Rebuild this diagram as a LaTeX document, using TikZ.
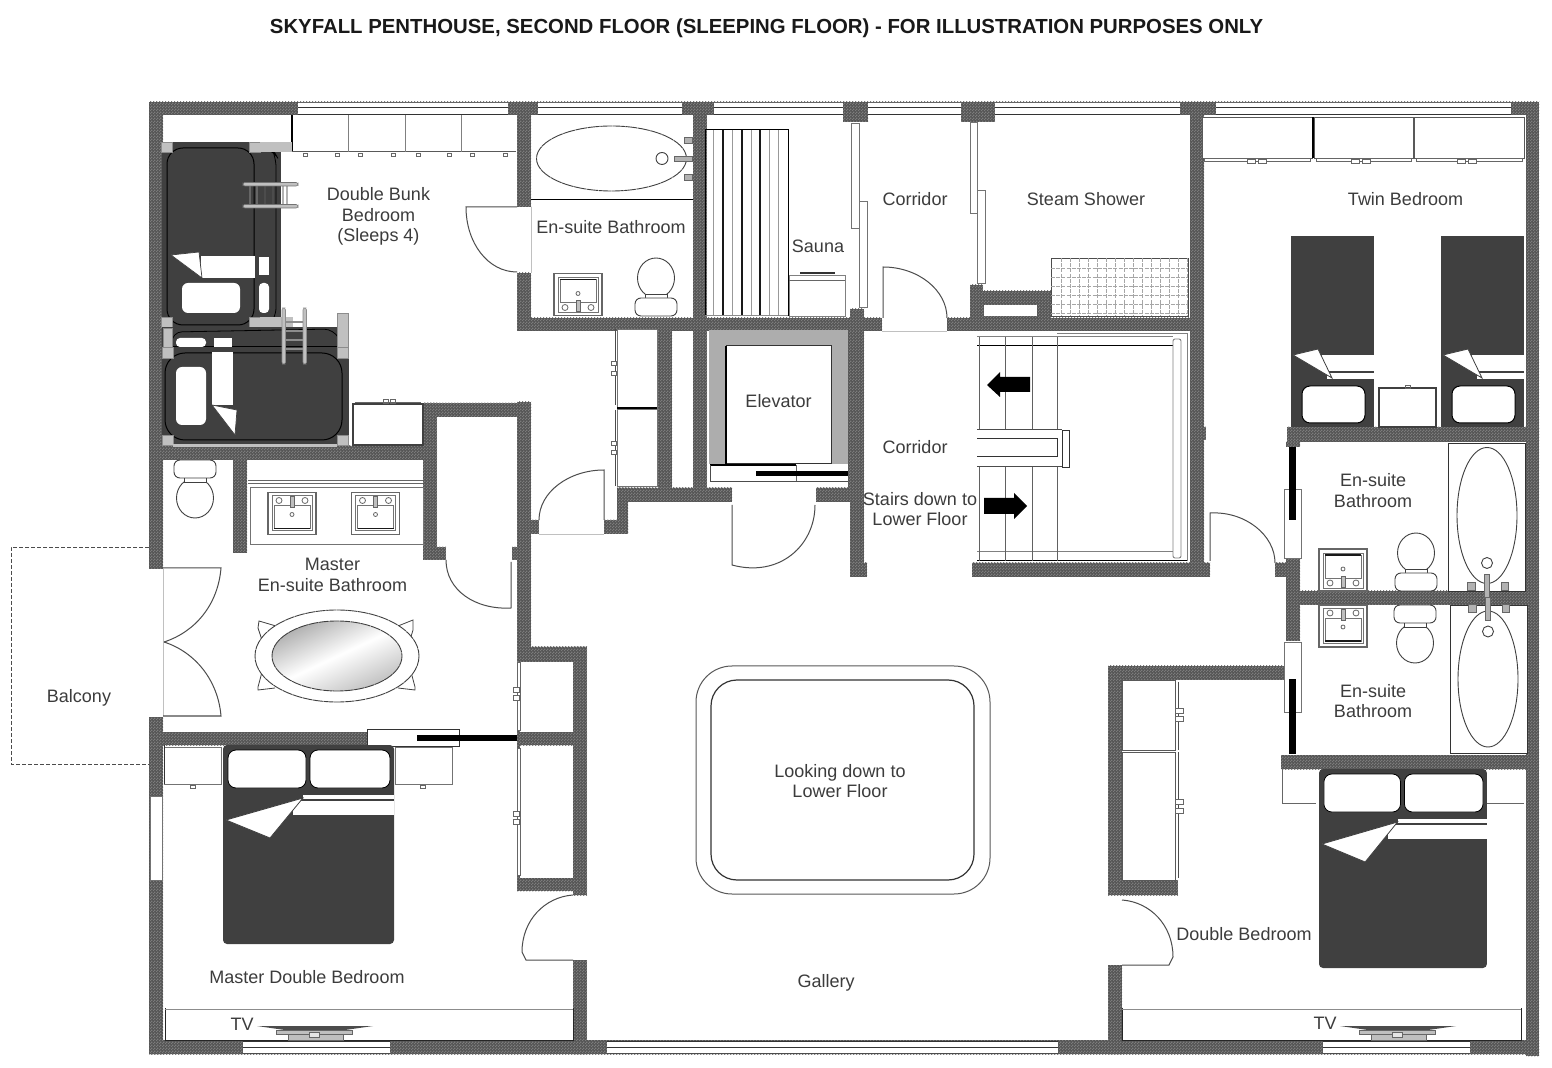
\documentclass[tikz,border=0pt]{standalone}
\usepackage{fontspec}
\setmainfont{Liberation Sans}
\usetikzlibrary{patterns,shadings}
\definecolor{wallc}{HTML}{555555}
\definecolor{walld}{HTML}{7C7C7C}
\definecolor{darkbed}{HTML}{404040}
\definecolor{txt}{HTML}{3C3C3C}
\definecolor{lgray}{HTML}{C0C0C0}
\pgfdeclarepatternformonly{wdots}{\pgfpointorigin}{\pgfqpoint{1.5pt}{1.5pt}}{\pgfqpoint{1.5pt}{1.5pt}}{%
  \pgfpathrectangle{\pgfpointorigin}{\pgfqpoint{0.75pt}{0.75pt}}%
  \pgfpathrectangle{\pgfqpoint{0.75pt}{0.75pt}}{\pgfqpoint{0.75pt}{0.75pt}}%
  \pgfusepath{fill}}
\tikzset{
  wall/.style={fill=wallc,postaction={pattern=wdots,pattern color=walld}},
  fix/.style={draw=black!75,line width=0.45pt,fill=white},
  thinl/.style={draw=black!60,line width=0.4pt},
  door/.style={draw=black!70,line width=0.5pt},
  lbl/.style={text=txt,font=\fontsize{9}{10.3}\selectfont,align=center,inner sep=0pt},
  post/.style={fill=lgray,draw=black!45,line width=0.3pt},
}
\newcommand\WinH[2]{%
  \fill[white] (#1,102) rectangle (#2,115);
  \draw[black!60,line width=0.4pt] (#1,102) -- (#2,102);
  \draw[black!80,line width=0.5pt] (#1,108) -- (#2,108);
  \draw[black!80,line width=0.5pt] (#1,115) -- (#2,115);}
\newcommand\WinB[2]{%
  \fill[white] (#1,1041) rectangle (#2,1053);
  \draw[black!80,line width=0.5pt] (#1,1041) -- (#2,1041);
  \draw[black!80,line width=0.5pt] (#1,1047) -- (#2,1047);
  \draw[black!70,line width=0.5pt] (#1,1053) -- (#2,1053);}
\newcommand\Sink[3]{\begin{scope}[shift={(#1,#2)},yscale=#3]
  \draw[fill=white,draw=black!60,line width=0.55pt] (-24,-21) rectangle (24,21);
  \draw[black!55,line width=0.35pt] (-20,-17) rectangle (20,18);
  \draw[black!55,line width=0.35pt] (-18,-15) rectangle (18,8);
  \draw[black!90,line width=0.6pt] (-18,-15) -- (18,-15);
  \draw[thinl] (0,-1) circle (2);
  \draw[thinl,fill=black!25] (-2,6) rectangle (2,17);
  \draw[thinl] (-13,13) circle (3);
  \draw[thinl] (13,13) circle (3);
\end{scope}}
\newcommand\Toilet[3]{\begin{scope}[shift={(#1,#2)},yscale=#3]
  \draw[fix] (0,-38) ellipse (18.5 and 20);
  \draw[fix] (-11,-22) rectangle (11,-17);
  \draw[fix,rounded corners=3] (-21,-18) rectangle (21,0);
\end{scope}}
\newcommand\TubV[3]{\begin{scope}[shift={(#1,#2)},yscale=#3]
  \draw[fix] (0,0) ellipse (30 and 68);
  \draw[fix] (0,47.5) circle (5.5);
  \draw[thinl,fill=black!30] (-2.5,58.5) rectangle (2.5,81.5);
  \draw[thinl,fill=black!30] (-19.5,67) rectangle (-12,75);
  \draw[thinl,fill=black!30] (14,67) rectangle (21,75);
 \end{scope}}
\newcommand\TwinBed[1]{\begin{scope}[shift={(#1,0)}]
  \fill[darkbed] (0,236) rectangle (83,427);
  \fill[white] (31,355) rectangle (83,371);
  \fill[white] (36,373) rectangle (83,379);
  \draw[fix,line width=0.4pt] (2,355) -- (27,349) -- (41,378) -- cycle;
  \draw[fill=white,draw=black,line width=0.5pt,rounded corners=4] (11,386) rectangle (74,423);
\end{scope}}
\newcommand\BigBed[3]{\begin{scope}[shift={(#1,#2)},xscale=#3]
  \fill[darkbed,rounded corners=2] (0,0) rectangle (171,199);
  \draw[fill=white,rounded corners=4,draw=black,line width=0.4pt] (5,5) rectangle (83,43);
  \draw[fill=white,rounded corners=4,draw=black,line width=0.4pt] (87,5) rectangle (167,43);
  \fill[white] (80,50) rectangle (171,54);
  \fill[white] (70,56) rectangle (171,70);
  \draw[fix,line width=0.4pt] (3,75) -- (80,53) -- (47,93) -- cycle;
\end{scope}}
\newcommand\TvUnit[3]{% tv offset, left, right
  \fill[white] (#2,1008) rectangle (#3,1040);
  \draw[black!85,line width=0.45pt] (#2,1008) -- (#2,1040) -- (#3,1040) -- (#3,1008);
  \draw[black!45,line width=0.8pt] (#2,1009.5) -- (#3,1009.5);
  \fill[black!70] (#1+257,1026) -- (#1+373,1026) -- (#1+345,1030) -- (#1+285,1030) -- cycle;
  \draw[thinl,fill=black!25] (#1+276,1030) rectangle (#1+352,1034);
  \draw[thinl,fill=black!25] (#1+288,1034) rectangle (#1+343,1040);
  \draw[thinl,fill=black!10] (#1+309,1032) rectangle (#1+319,1037);}
\begin{document}
\begin{tikzpicture}[x=0.5pt,y=-0.5pt]
\useasboundingbox (0,0) rectangle (1552,1068);
\fill[white] (0,0) rectangle (1552,1068);
% ---------------- walls
\foreach \a/\b/\c/\d in {
 149/102/1539/115,   149/102/163/569,    149/717/163/1054,   149/1040/1539/1054, 1526/102/1539/1056,
 517/102/531/207,    517/273/531/331,    517/318/882/331,    693/102/707/488,    843/102/868/122,
 850/309/864/577,    850/563/867/577,    947/318/1190/331,   961/102/995/122,    970/285/983/318,
 983/291/1051/318,   1190/102/1204/577,  1204/427/1206/440,  972/563/1210/577,   848/331/862/488,
 658/331/672/488,    617/488/732/502,    816/488/850/502,    617/488/628/534,    604/520/628/534,
 517/402/531/648,    531/520/539/534,    423/403/531/417,    423/403/437/560,    423/547/446/560,
 512/547/517/560,    149/446/437/460,    233/460/247/553,    149/732/367/745,    517/732/587/745,
 517/647/587/662,    573/647/587/895,    517/878/587/891,    573/960/587/1054,
 517/662/520/732,    517/745/520/878,
 1108/666/1286/680,  1108/666/1122/895,  1122/880/1178/895,  1108/965/1122/1054,
 1287/427/1539/442,  1286/442/1300/447,  1286/558/1300/641,  1275/563/1287/577,  1300/591/1526/605,
 1281/755/1526/769}{
  \path[wall] (\a,\b) rectangle (\c,\d);
}
\fill[white] (984,305) rectangle (1037,316);
% ---------------- windows
\WinH{298}{508}\WinH{538}{682}\WinH{714}{843}\WinH{868}{961}\WinH{995}{1180}\WinH{1216}{1511}
\WinB{243}{390}\WinB{607}{1058}\WinB{1323}{1470}
\draw[fill=white,draw=black!55,line width=0.45pt] (150,796) rectangle (162,880);
% ---------------- balcony
\draw[black!70,line width=0.35pt,dash pattern=on 2pt off 1pt] (149,547) -- (11,547) -- (11,764) -- (149,764);
% ---------------- double bunk closet
\draw[black,line width=0.6pt] (292,115) -- (292,152);
\draw[black!65,line width=0.5pt] (292,152) -- (516,152);
\foreach \x in {348,405,461} \draw[black!50,line width=0.4pt] (\x,115) -- (\x,152);
\foreach \x in {305,337,360,393,418,449,472,505} \draw[thinl,fill=white] (\x-2,153) rectangle (\x+2,156);
% bunk 1
\fill[darkbed] (162,142) rectangle (281,327);
\draw[black,line width=0.5pt,rounded corners=8] (167,148) rectangle (254,325);
\draw[black,line width=0.4pt,rounded corners=6] (254,148) -- (272,148) -- (276,155) -- (276,320) -- (270,325) -- (254,325);
\draw[post] (249,142) rectangle (260,152);
\draw[post] (161,142) rectangle (172,152);
\fill[lgray] (260,142) rectangle (292,152);
\draw[post] (161,317) rectangle (172,327);
\draw[post] (249,317) rectangle (260,327);
\fill[lgray] (260,317) rectangle (293,327);
\fill[white] (201,256) rectangle (255,278);
\fill[white] (259,257) rectangle (269,275);
\fill[white,rounded corners=3] (182,283) rectangle (240,313);
\fill[white,rounded corners=2] (259,283) rectangle (269,313);
\draw[fix,line width=0.35pt] (171,255) -- (199,252) -- (202,278) -- cycle;
% ladder 1
\foreach \x/\c in {250/black!60,257/black!60,265/black!70,273/black!70,283/black!30,287/black!30}
  \draw[\c,line width=0.8pt] (\x,185) -- (\x,206);
\draw[fill=lgray,draw=black!55,line width=0.3pt,rounded corners=1] (243,182.5) rectangle (298,186);
\draw[fill=lgray,draw=black!55,line width=0.3pt,rounded corners=1] (243,204.5) rectangle (298,208);
% bunk 2
\fill[darkbed] (162,327) rectangle (349,445);
\draw[black,line width=0.5pt,rounded corners=10] (165,353) rectangle (342,440);
\draw[black,line width=0.5pt] (172,347) -- (337,347);
\draw[black,line width=0.4pt,rounded corners=5] (172,347) -- (172,332) -- (334,329) -- (337,335);
\draw[post] (163,328) rectangle (172,347);
\draw[post] (162,347) rectangle (173,358);
\draw[post] (337,313) rectangle (348,347);
\draw[post] (337,347) rectangle (348,358);
\draw[post] (337,435) rectangle (348,445);
\draw[post] (162,435) rectangle (173,445);
\fill[lgray] (173,444.5) rectangle (337,447);
\fill[white,rounded corners=3] (176,367) rectangle (206,425);
\fill[white] (212,352) rectangle (233,405);
\draw[fix,line width=0.35pt] (212,405) -- (237,410) -- (235,435) -- cycle;
\fill[white,rounded corners=2] (176,338) rectangle (206,347);
\fill[white] (214,338) rectangle (232,347);
\foreach \y in {322,331,340,349} \draw[black!45,line width=0.9pt] (284,\y) -- (305,\y);
\draw[post,rounded corners=1] (282,308) rectangle (285.5,364);
\draw[post,rounded corners=1] (303,308) rectangle (306.5,364);
% nightstand
\draw[fix,line width=0.6pt] (353,404) rectangle (423,445);
\draw[thinl] (355,402) -- (421,402);
\draw[thinl] (383,399) rectangle (388,403); \draw[thinl] (390,399) rectangle (395,403);
% ---------------- en-suite bathroom
\draw[black,line width=0.5pt] (531,200) -- (693,200);
\draw[fix,dash pattern=on 6pt off 0.3pt] (611.5,158.5) ellipse (75 and 32.5);
\draw[fix] (662,158.5) circle (6);
\draw[thinl,fill=black!30] (674,156) rectangle (692,161);
\draw[thinl,fill=black!30] (684,137) rectangle (692,143);
\draw[thinl,fill=black!30] (684,174) rectangle (692,180);
\Sink{578}{294.5}{1}
\Toilet{656}{316}{1}
\draw[lgray,line width=0.4pt] (531,207) -- (531,273);
% ---------------- sauna
\draw[black,line width=0.5pt] (705,316) -- (705,130) -- (788,130) -- (788,316);
\foreach \x in {713,732,751,769,778} \draw[black!40,line width=0.5pt] (\x,130) -- (\x,316);
\foreach \x in {723,742,760} \draw[black!90,line width=0.55pt] (\x,130) -- (\x,316);
\draw[black!45,line width=0.5pt] (705,316) -- (788,316);
\draw[fill=white,draw=black!50,line width=0.45pt] (789,275) rectangle (845,316);
\draw[thinl] (789,280) -- (845,280);
\draw[black!80,line width=0.7pt] (800,273) -- (835,273);
% sliding panels
\draw[fill=white,draw=black!55,line width=0.45pt] (851,123) rectangle (859,228);
\draw[fill=white,draw=black!55,line width=0.45pt] (859,201) rectangle (867,307);
\draw[fill=white,draw=black!55,line width=0.45pt] (970,122) rectangle (977,213);
\draw[fill=white,draw=black!55,line width=0.45pt] (977,190) rectangle (985,283);
% shower grid
\draw[black!70,line width=0.4pt] (1051,258) rectangle (1188,316);
\foreach \x in {1061,1070,...,1188} \draw[black!35,line width=0.3pt,dash pattern=on 2pt off 0.6pt] (\x,258) -- (\x,316);
\foreach \y in {268,277,...,316} \draw[black!35,line width=0.3pt,dash pattern=on 2pt off 0.6pt] (1051,\y) -- (1188,\y);
% ---------------- corridor door light line
\draw[lgray,line width=0.4pt] (882,331) -- (947,331);
% ---------------- stairs
\draw[black!50,line width=0.5pt] (1057,334) -- (1187,334) -- (1187,561);
\draw[black!50,line width=0.5pt] (977,337) -- (1173,337);
\draw[black,line width=0.5pt] (977,346) -- (1173,346);
\draw[black!50,line width=0.5pt] (977,552) -- (1173,552);
\draw[black,line width=0.5pt] (977,561) -- (1187,561);
\draw[fill=white,draw=black!50,line width=0.45pt,rounded corners=1] (1173,339) rectangle (1181,558);
\foreach \x in {979,1005,1032,1057} {
  \draw[black!62,line width=0.5pt] (\x,337) -- (\x,430);
  \draw[black!62,line width=0.5pt] (\x,467) -- (\x,561);
}
\fill[white] (977,430) rectangle (1062,467);
\draw[black!70,line width=0.5pt] (977,430) -- (1062,430);
\draw[black!70,line width=0.5pt] (977,467) -- (1062,467);
\draw[black!80,line width=0.5pt] (977,439) -- (1057,439) -- (1057,457) -- (977,457);
\draw[fix,draw=black!80] (1062,430) rectangle (1069,467);
\fill[black] (1030,377) -- (1000,377) -- (1000,372) -- (987,385) -- (1000,397) -- (1000,392) -- (1030,392) -- cycle;
\fill[black] (984,498) -- (1014,498) -- (1014,493) -- (1027,506) -- (1014,519) -- (1014,514) -- (984,514) -- cycle;
% ---------------- closets centre-left
\draw[fill=white,draw=black!55,line width=0.45pt] (617,329) rectangle (657,408);
\draw[fill=white,draw=black!55,line width=0.45pt] (617,409) rectangle (657,486);
\draw[black,line width=0.6pt] (617,408) -- (657,408);
\draw[black!70,line width=0.5pt] (615,329) -- (615,405);
\draw[black!70,line width=0.5pt] (615,410) -- (615,486);
\foreach \y in {363,373,443,452} \draw[thinl,fill=white] (611,\y-2) rectangle (616,\y+2);
% ---------------- elevator
\fill[black!32] (709,330) rectangle (848,464);
\draw[fill=white,draw=black!80,line width=0.5pt] (726,346) rectangle (831,464);
\draw[black,line width=0.7pt] (726,346) -- (726,464);
\fill[white] (710,465) rectangle (848,482);
\draw[black,line width=0.6pt] (710,465) -- (796,465);
\draw[black!60,line width=0.5pt] (796,465) -- (796,482);
\draw[black!70,line width=0.5pt] (710,465) -- (710,482) -- (848,482);
\fill[black] (756,471) rectangle (848,476);
% ---------------- master bathroom
\Toilet{195}{460}{-1}
\draw[black!60,line width=0.5pt] (248,481) -- (423,481);
\draw[black!60,line width=0.5pt] (248,484) -- (423,484);
\draw[fill=white,draw=black!55,line width=0.45pt] (250,487) rectangle (423,544);
\Sink{292}{513.5}{-1}
\Sink{375.5}{513.5}{-1}
% tub
\foreach \p in {
 {(276,626) -- (259,621) -- (258,628) -- (262,640)},
 {(398,626) -- (413,620) -- (413,630) -- (410,640)},
 {(275,688) -- (258,690) -- (258,687) -- (262,672)},
 {(398,688) -- (415,690) -- (415,687) -- (411,672)}}
 \draw[fix,line width=0.4pt] \p;
\draw[fix,dash pattern=on 5pt off 0.3pt] (337,656) ellipse (82 and 46);
\shade[left color=black!32,right color=black!25,middle color=white,shading angle=25] (337,656) ellipse (65 and 35);
\draw[black!75,line width=0.45pt,dash pattern=on 5pt off 0.3pt] (337,656) ellipse (65 and 35);
% balcony doors
\draw[lgray,line width=0.5pt] (163,569) -- (163,716);
\draw[door] (163,568) -- (221,568) .. controls (218,605) and (195,632) .. (164,642);
\draw[door] (163,716) -- (221,716) .. controls (218,680) and (195,652) .. (164,642);
% sliding door
\draw[fix,draw=black!80] (367,729) rectangle (459,746);
\fill[black] (417,735) rectangle (517,741);
% closets on gallery left
\draw[black!60,line width=0.4pt,fill=white] (517,662) rectangle (520,730);
\draw[black!60,line width=0.4pt,fill=white] (517,748) rectangle (520,875);
\foreach \y in {690,698,814,822} \draw[thinl,fill=white] (513,\y-2.5) rectangle (519,\y+2.5);
% master bedroom
\draw[fill=white,draw=black!55,line width=0.45pt] (164,747) rectangle (221,784);
\draw[black!80,line width=0.5pt] (164,745) -- (164,784);
\draw[fill=white,draw=black!55,line width=0.45pt] (395,747) rectangle (452,784);
\draw[thinl] (190,785) rectangle (195,788);
\draw[thinl] (420,785) rectangle (425,788);
\BigBed{223}{745}{1}
\TvUnit{0}{165}{573}
% ---------------- right closets
\draw[fill=white,draw=black!65,line width=0.45pt] (1122,680) rectangle (1175,750);
\draw[fill=white,draw=black!65,line width=0.45pt] (1122,752) rectangle (1175,880);
\draw[black!70,line width=0.5pt] (1178,682) -- (1178,750);
\draw[black!70,line width=0.5pt] (1178,752) -- (1178,878);
\foreach \y in {711,719,802,811} \draw[thinl,fill=white] (1175,\y-2.5) rectangle (1183,\y+2.5);
% double bedroom
\draw[thinl] (1282,769) -- (1282,803) -- (1316,803);
\draw[thinl] (1487,803) -- (1524,803);
\BigBed{1319}{769}{0.982}
\TvUnit{1083}{1122}{1521}
% ---------------- twin bedroom
\foreach \a/\b in {1202/1312,1314/1413,1414/1524} {
  \draw[fill=white,draw=black!65,line width=0.45pt] (\a,117) rectangle (\b,158);
  \draw[thinl,fill=white] (\a+2,158) rectangle (\b-2,161);
}
\draw[black,line width=0.6pt] (1313,117) -- (1313,158);
\foreach \x in {1247,1258,1351,1362,1457,1468} \draw[thinl,fill=white] (\x,159) rectangle (\x+8,163);
\TwinBed{1291}\TwinBed{1441}
\draw[fix,line width=0.6pt] (1379,388) rectangle (1436,427);
\draw[thinl] (1405,385) rectangle (1410,388);
% ---------------- right en-suites
\draw[fix,draw=black!80] (1448,443) rectangle (1525,591);
\draw[fix,draw=black!80] (1450,605) rectangle (1527,753);
\TubV{1487}{515.5}{1}
\TubV{1488}{679}{-1}
\Sink{1343}{570}{1}
\Sink{1343}{626}{-1}
\Toilet{1416}{591}{1}
\Toilet{1415}{605}{-1}
\draw[fill=white,draw=black!55,line width=0.45pt] (1284,489) rectangle (1301,558);
\fill[black] (1289,447) rectangle (1296,520);
\draw[fill=white,draw=black!55,line width=0.45pt] (1284,642) rectangle (1301,712);
\fill[black] (1289,679) rectangle (1296,754);
% ---------------- atrium
\draw[black!65,line width=0.5pt,fill=white,rounded corners=18pt] (696,666) rectangle (990,894);
\draw[black!80,line width=0.6pt,rounded corners=13pt] (711,680) rectangle (974,880);
% ---------------- doors
\draw[door] (517,207) -- (466,207) .. controls (466,243) and (488,272) .. (517,272);
\draw[door] (883,318) -- (883,267) .. controls (918,267) and (947,290) .. (947,318);
\draw[door] (604,520) -- (604,470) .. controls (569,470) and (539,492) .. (539,520);
\draw[lgray,line width=0.4pt] (539,534) -- (604,534);
\draw[door] (732,505) -- (732,565) .. controls (780,578) and (815,545) .. (815,505);
\draw[door] (511,562) -- (511,608) .. controls (475,610) and (446,590) .. (446,560);
\draw[door] (1210,561) -- (1210,513) .. controls (1245,511) and (1275,535) .. (1275,563);
\draw[door] (573,895) .. controls (545,897) and (522,920) .. (522,952) -- (526,960) -- (573,960);
\draw[door] (1122,900) .. controls (1150,902) and (1173,925) .. (1173,957) -- (1169,965) -- (1122,965);
% ---------------- text
\node[inner sep=0pt,font=\bfseries\fontsize{10.18}{12}\selectfont,text=black!90] (title) at (766.5,28) {SKYFALL PENTHOUSE, SECOND FLOOR (SLEEPING FLOOR) - FOR ILLUSTRATION PURPOSES ONLY};
\node[lbl] (t1) at (378.5,216.5) {Double Bunk\\Bedroom\\(Sleeps 4)};
\node[lbl] (t2) at (611,227.5) {En-suite Bathroom};
\node[lbl] (t3) at (818,246.5) {Sauna};
\node[lbl] (t4) at (915,199.5) {Corridor};
\node[lbl] (t5) at (1086,199.5) {Steam Shower};
\node[lbl] (t6) at (1405.5,199.5) {Twin Bedroom};
\node[lbl] (t7) at (778.5,401) {Elevator};
\node[lbl] (t8) at (915,447.5) {Corridor};
\node[lbl] (t9) at (920,509) {Stairs down to\\Lower Floor};
\node[lbl] (t10) at (1373,490.5) {En-suite\\Bathroom};
\node[lbl] (t11) at (1373,701) {En-suite\\Bathroom};
\node[lbl] (t12) at (332.5,575) {Master\\En-suite Bathroom};
\node[lbl] (t13) at (79,698) {Balcony};
\node[lbl] (t14) at (840,781) {Looking down to\\Lower Floor};
\node[lbl] (t15) at (307,977) {Master Double Bedroom};
\node[lbl] (t16) at (826,982.5) {Gallery};
\node[lbl] (t17) at (1244,934.5) {Double Bedroom};
\node[lbl] (t18) at (242,1024) {TV};
\node[lbl] (t19) at (1325,1023.5) {TV};
\end{tikzpicture}
\end{document}
